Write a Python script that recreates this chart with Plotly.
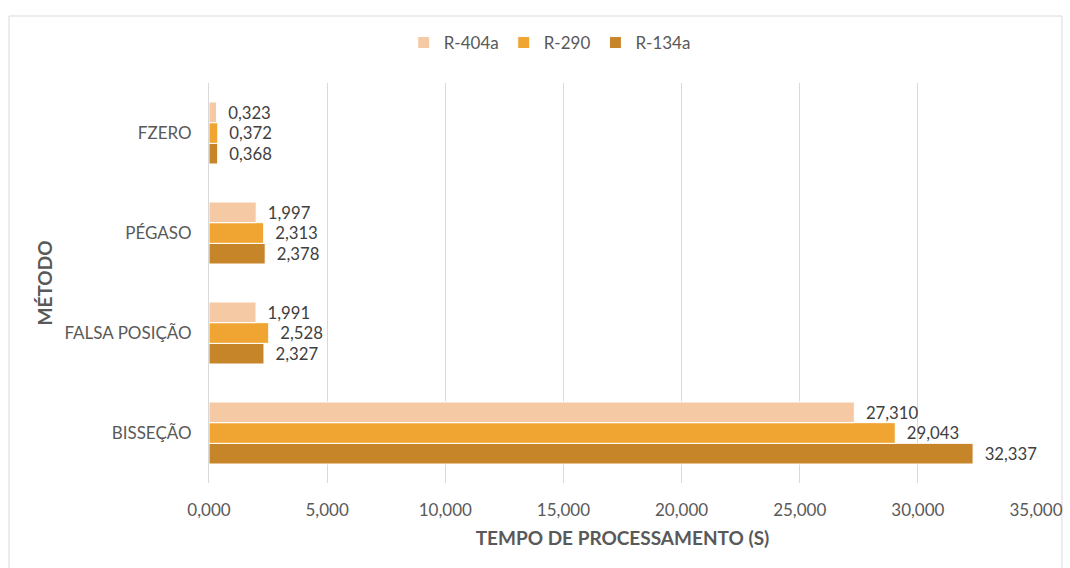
import plotly.graph_objects as go

metodos = ["BISSEÇÃO", "FALSA POSIÇÃO", "PÉGASO", "FZERO"]
r134a = [32.337, 2.327, 2.378, 0.368]
r290 = [29.043, 2.528, 2.313, 0.372]
r404a = [27.310, 1.991, 1.997, 0.323]

series = [
    ("R-134a", r134a, "#C7852A"),
    ("R-290", r290, "#F0A431"),
    ("R-404a", r404a, "#F5C9A4"),
]

FONT = "Lato, 'Open Sans', sans-serif"
GRAY = "#595959"

fig = go.Figure()
for name, vals, color in series:
    fig.add_trace(
        go.Bar(
            y=metodos,
            x=vals,
            name=name,
            orientation="h",
            marker=dict(color=color, line=dict(color="white", width=1)),
            texttemplate="\u00a0\u00a0%{x:.3f}",
            textposition="outside",
            textfont=dict(size=17, color="#404040", family=FONT),
            cliponaxis=False,
        )
    )

fig.update_layout(
    width=1070,
    height=568,
    barmode="group",
    bargap=0.38,
    bargroupgap=0,
    separators=",.",
    plot_bgcolor="white",
    paper_bgcolor="white",
    font=dict(family=FONT, color=GRAY, size=17),
    margin=dict(l=209, r=34, t=83, b=85, autoexpand=False),
    legend=dict(
        orientation="h",
        traceorder="reversed",
        x=0.412,
        xanchor="center",
        y=1.1,
        yanchor="middle",
        bgcolor="rgba(0,0,0,0)",
        font=dict(size=17, color=GRAY),
    ),
    xaxis=dict(
        range=[0, 35],
        dtick=5,
        tickformat=".3f",
        showgrid=True,
        gridcolor="#D9D9D9",
        zeroline=False,
        showline=False,
        automargin=False,
        tickfont=dict(size=17, color=GRAY),
        ticks="outside",
        ticklen=12,
        tickcolor="rgba(0,0,0,0)",
        title=dict(
            text="<b>TEMPO DE PROCESSAMENTO (S)</b>",
            font=dict(size=19, color=GRAY),
            standoff=12,
        ),
    ),
    yaxis=dict(
        showgrid=False,
        showline=True,
        linecolor="#D9D9D9",
        automargin=False,
        ticks="outside",
        ticklen=13,
        tickcolor="rgba(0,0,0,0)",
        tickfont=dict(size=17, color=GRAY),
        title=dict(
            text="<b>MÉTODO</b>",
            font=dict(size=19, color=GRAY),
            standoff=6,
        ),
    ),
    shapes=[
        dict(
            type="rect",
            xref="paper",
            yref="paper",
            x0=-0.2418,
            x1=1.0314,
            y0=-0.3,
            y1=1.1675,
            line=dict(color="#D9D9D9", width=1),
            fillcolor="rgba(0,0,0,0)",
            layer="below",
        )
    ],
)

fig.write_html(
    "out.html",
    config={"displayModeBar": False},
    post_script="document.body.style.margin='0';",
)
